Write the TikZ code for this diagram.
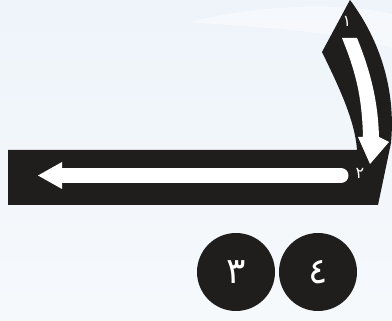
\documentclass[tikz,border=0pt]{standalone}
\usepackage{fontspec}
\newfontfamily\arabicfont[Script=Arabic]{DejaVu Sans}
\definecolor{ink}{HTML}{1F1E1C}
\definecolor{bgtop}{HTML}{EEF4FA}
\definecolor{bgbot}{HTML}{F6F9FC}
\tikzset{
  numcircle/.style={circle, fill=ink, minimum size=78pt, inner sep=0pt, text=white, font=\arabicfont\fontsize{36}{40}\selectfont},
  smalllabel/.style={text=white, inner sep=0pt, font=\arabicfont\fontsize{16}{18}\selectfont},
}
\begin{document}
\begin{tikzpicture}[x=1pt, y=-1pt]
\useasboundingbox (0,0) rectangle (392,321);
% background
\shade[top color=bgtop, bottom color=bgbot] (0,0) rectangle (392,321);
\fill[white, opacity=0.45] (190,22) .. controls (270,2) and (350,4) .. (392,14) -- (392,48) .. controls (330,30) and (260,28) .. (190,22) -- cycle;
% black letter shape
\fill[ink] (8,150) -- (357,150) .. controls (355,120) and (338,85) .. (322,52) -- (350,0)
  .. controls (380,40) and (396,90) .. (391,143) -- (378,205) -- (8,205) -- cycle;
% slanted white arrow
\fill[white] (342,38) -- (357,38) .. controls (370,70) and (378,100) .. (379,137)
  -- (389,142) -- (370,164) -- (358,137) -- (363,137)
  .. controls (362,95) and (355,70) .. (342,38) -- cycle;
% horizontal white arrow
\draw[white, line width=15pt, line cap=round] (62,175.5) -- (341,175.5);
\fill[white] (38,175.5) -- (62,162) -- (62,189) -- cycle;
% labels
\node[smalllabel] (one) at (347,21) {١};
\node[smalllabel] (two) at (360,173) {٢};
\node[numcircle] (three) at (236,272) {٣};
\node[numcircle] (four) at (318,272) {٤};
\end{tikzpicture}
\end{document}
